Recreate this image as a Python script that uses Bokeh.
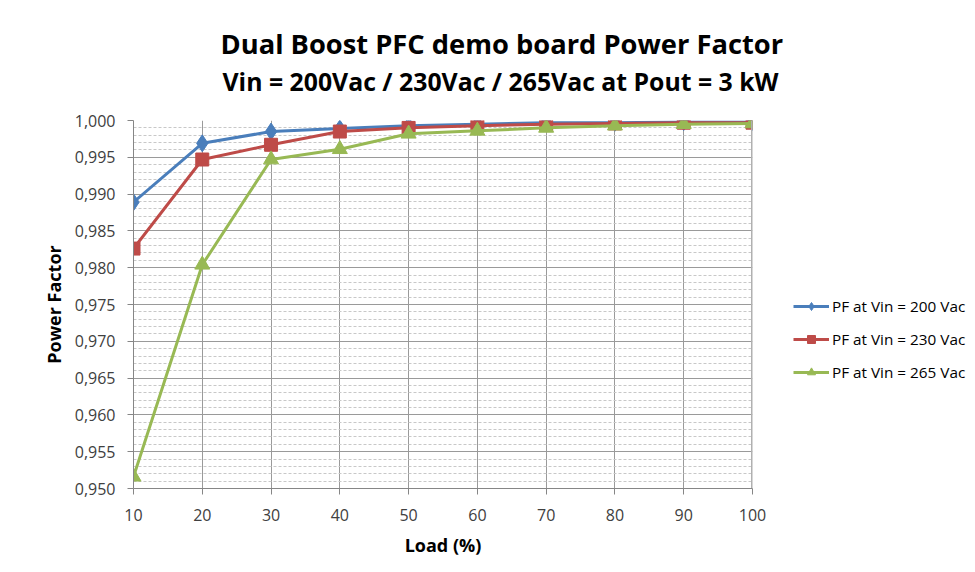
from bokeh.plotting import figure
from bokeh.models import (Range1d, FixedTicker, CustomJSTickFormatter, Legend,
                          LegendItem, Title)
from bokeh.embed import file_html
from bokeh.resources import INLINE

# ---- data ----
load = [10, 20, 30, 40, 50, 60, 70, 80, 90, 100]
pf_200 = [0.9889, 0.9969, 0.9985, 0.9989, 0.9993, 0.9995, 0.9997, 0.9997, 0.9998, 0.9998]
pf_230 = [0.9826, 0.9947, 0.9967, 0.9985, 0.9990, 0.9993, 0.9995, 0.9996, 0.9997, 0.9997]
pf_265 = [0.9516, 0.9804, 0.9947, 0.9961, 0.9982, 0.9986, 0.9990, 0.9993, 0.9995, 0.9996]
y_major = [0.950, 0.955, 0.960, 0.965, 0.970, 0.975, 0.980, 0.985, 0.990, 0.995, 1.000]
y_minor = [round(0.950 + 0.001 * i, 3) for i in range(51)]
x_ticks = [10, 20, 30, 40, 50, 60, 70, 80, 90, 100]
series_labels = ["PF at Vin = 200 Vac", "PF at Vin = 230 Vac", "PF at Vin = 265 Vac"]
title_text = "Dual Boost PFC demo board Power Factor"
subtitle_text = "Vin = 200Vac / 230Vac / 265Vac at Pout = 3 kW"

FONT = "Open Sans"
BLUE = "#4A7EBB"
RED = "#BE4B48"
GREEN = "#98B954"

p = figure(frame_width=619, frame_height=368, title=None,
           x_range=Range1d(10, 100), y_range=Range1d(0.950, 1.000),
           output_backend="svg", toolbar_location=None,
           min_border_left=133, min_border_right=215,
           min_border_top=120, min_border_bottom=76)
p.outline_line_color = None
p.background_fill_color = "white"
p.border_fill_color = "white"

# titles (subtitle added first -> sits closer to the plot)
sub = Title(text=subtitle_text, align="left", text_font=FONT,
            text_font_size="24.8px", text_font_style="bold", text_color="#000000",
            offset=89, standoff=46)
main = Title(text=title_text, align="left", text_font=FONT,
             text_font_size="27.3px", text_font_style="bold", text_color="#000000",
             offset=87, standoff=-46)
p.add_layout(sub, "above")
p.add_layout(main, "above")

# axes
p.xaxis.ticker = FixedTicker(ticks=x_ticks)
p.yaxis.ticker = FixedTicker(ticks=y_major, minor_ticks=y_minor)
p.yaxis.formatter = CustomJSTickFormatter(code="return tick.toFixed(3).replace('.', ',');")
for ax in (p.xaxis, p.yaxis):
    ax.axis_line_color = "#868686"
    ax.major_tick_line_color = "#868686"
    ax.major_tick_out = 6
    ax.major_tick_in = 0
    ax.minor_tick_line_color = None
    ax.major_label_text_font = FONT
    ax.major_label_text_font_size = "16px"
    ax.major_label_text_color = "#404040"
    ax.axis_label_text_font = FONT
    ax.axis_label_text_font_size = "18px"
    ax.axis_label_text_font_style = "bold"
    ax.axis_label_text_color = "#000000"
p.xaxis.axis_label = "Load (%)"
p.yaxis.axis_label = "Power Factor"
p.xaxis.major_label_standoff = 14
p.xaxis.axis_label_standoff = 9
p.yaxis.major_label_standoff = 12
p.yaxis.axis_label_standoff = 6

# grids
p.xgrid.grid_line_color = "#9A9A9A"
p.ygrid.grid_line_color = "#9A9A9A"
p.ygrid.minor_grid_line_color = "#C8C8C8"
p.ygrid.minor_grid_line_dash = "3 2"

# series
r1 = p.line(load, pf_200, line_color=BLUE, line_width=3)
m1 = p.scatter(load, pf_200, marker="diamond", size=17, fill_color=BLUE, line_color=BLUE)
r2 = p.line(load, pf_230, line_color=RED, line_width=3)
m2 = p.scatter(load, pf_230, marker="square", size=13, fill_color=RED, line_color=RED)
r3 = p.line(load, pf_265, line_color=GREEN, line_width=3)
m3 = p.scatter(load, pf_265, marker="triangle", size=15, fill_color=GREEN, line_color=GREEN)

# right-hand border line at 100
p.line([100, 100], [0.950, 1.000], line_color="#B0B0B0", line_width=3)

legend = Legend(items=[LegendItem(label=series_labels[0], renderers=[r1, m1]),
                       LegendItem(label=series_labels[1], renderers=[r2, m2]),
                       LegendItem(label=series_labels[2], renderers=[r3, m3])],
                location=(41, 106), orientation="vertical",
                label_text_font=FONT, label_text_font_size="15.3px",
                label_text_color="#000000", glyph_width=36, glyph_height=20,
                label_standoff=3, spacing=13, padding=0, margin=0,
                border_line_color=None, background_fill_alpha=0)
p.add_layout(legend, "right")

open("out.html", "w").write(file_html(p, INLINE))
